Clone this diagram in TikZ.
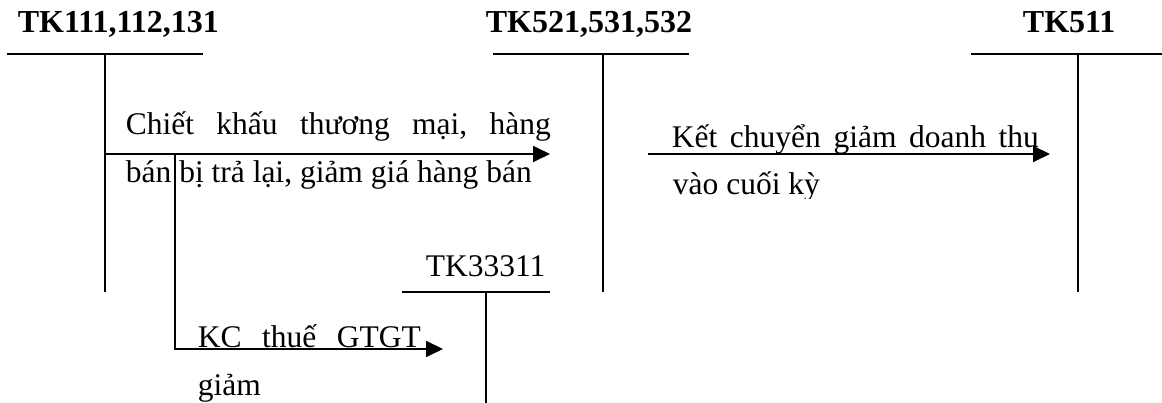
\documentclass[tikz,border=0pt]{standalone}
\usepackage{fontspec}
\setmainfont{Liberation Serif}
\usetikzlibrary{arrows.meta}
\begin{document}
\begin{tikzpicture}[x=1pt,y=-1pt,line width=1.8pt,
  title/.style={font=\bfseries\fontsize{32}{38}\selectfont,anchor=base west,inner sep=0pt},
  txt/.style={font=\fontsize{31.5}{38}\selectfont,anchor=base west,inner sep=0pt},
  arr/.style={-{Triangle[length=17pt,width=16pt]}}]
\useasboundingbox (0,0) rectangle (1162,403);
% account titles
\node[title] (t1) at (17,33) {TK111,112,131};
\node[title] (t2) at (485,33) {TK521,531,532};
\node[title] (t3) at (1022,33) {TK511};
\node[txt] (t4) at (425,277) {TK33311};
% T-accounts
\coordinate (a1L) at (7,54);   \coordinate (a1R) at (203,54);
\coordinate (a1T) at (105,54); \coordinate (a1B) at (105,292);
\coordinate (a2L) at (493,54); \coordinate (a2R) at (689,54);
\coordinate (a2T) at (603,54); \coordinate (a2B) at (603,292);
\coordinate (a3L) at (971,54); \coordinate (a3R) at (1162,54);
\coordinate (a3T) at (1078,54); \coordinate (a3B) at (1078,292);
\coordinate (a4L) at (402,292); \coordinate (a4R) at (550,292);
\coordinate (a4T) at (486,292); \coordinate (a4B) at (486,403);
\draw (a1L) -- (a1R); \draw (a1T) -- (a1B);
\draw (a2L) -- (a2R); \draw (a2T) -- (a2B);
\draw (a3L) -- (a3R); \draw (a3T) -- (a3B);
\draw (a4L) -- (a4R); \draw (a4T) -- (a4B);
% arrows
\coordinate (s1) at (105,154); \coordinate (e1) at (550,154);
\coordinate (b1) at (175,154); \coordinate (e3) at (443,349);
\coordinate (s2) at (648,154); \coordinate (e2) at (1050,154);
\draw[arr] (s1) -- (e1);
\draw[arr] (b1) |- (e3);
\draw[arr] (s2) -- (e2);
% labels
\node[txt] (l1) at (125,135) {\makebox[425pt][s]{Chiết\hfill khấu\hfill thương\hfill mại,\hfill hàng}};
\node[txt] (l2) at (125,183) {bán bị trả lại, giảm giá hàng bán};
\node[txt] (l3) at (671,148) {\makebox[367pt][s]{Kết\hfill chuyển\hfill giảm\hfill doanh\hfill thu}};
\begin{scope}
\clip (640,160) rectangle (900,199);
\node[txt] (l4) at (672,195) {vào cuối kỳ};
\end{scope}
\node[txt] (l5) at (197,348) {\makebox[223pt][s]{KC\hfill thuế\hfill GTGT}};
\node[txt] (l6) at (197,395) {giảm};
\end{tikzpicture}
\end{document}
